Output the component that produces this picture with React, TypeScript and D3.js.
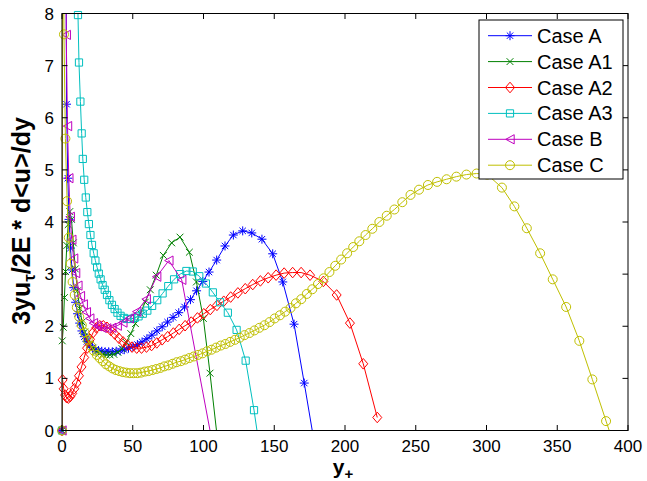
import React from 'react';
import * as d3 from 'd3';

const xTicks = [0, 50, 100, 150, 200, 250, 300, 350, 400];
const yTicks = [0, 1, 2, 3, 4, 5, 6, 7, 8];
const seriesNames = ['Case A', 'Case A1', 'Case A2', 'Case A3', 'Case B', 'Case C'];

const caseAX = [0, 1.2, 3.2, 4.1, 5.0, 6.0, 7.1, 8.3, 9.6, 11.0,
  12.5, 14.1, 15.8, 17.6, 19.5, 21.5, 23.6, 25.8, 28.1, 30.5,
  33.0, 35.6, 38.3, 41.1, 44.0, 47.0, 50.1, 53.3, 56.6, 60.0,
  63.5, 67.1, 70.8, 74.6, 78.5, 82.5, 86.6, 90.8, 95.1, 99.5,
  103.9, 109.3, 115.2, 121.1, 127.7, 134.1, 141.3, 148.9, 156.0, 164.0,
  171.2, 178.4];
const caseAY = [0, 25, 6.26, 4.84, 4.05, 3.50, 3.08, 2.74, 2.46, 2.24,
  2.06, 1.91, 1.80, 1.71, 1.64, 1.59, 1.55, 1.53, 1.52, 1.51,
  1.51, 1.51, 1.52, 1.53, 1.55, 1.58, 1.61, 1.65, 1.70, 1.76,
  1.83, 1.91, 1.99, 2.08, 2.17, 2.26, 2.37, 2.51, 2.68, 2.86,
  3.04, 3.27, 3.54, 3.75, 3.83, 3.79, 3.67, 3.39, 2.85, 2.04,
  0.91, -0.25];

const caseA1X = [0, 0.2, 0.9, 1.7, 2.5, 3.4, 4.4, 5.5, 6.7, 8.0,
  9.4, 10.9, 12.5, 14.2, 16.0, 17.9, 19.9, 22.0, 24.2, 26.5,
  28.9, 31.4, 34.0, 36.7, 39.5, 42.4, 45.4, 48.6, 51.9, 55.3,
  58.8, 62.4, 66.6, 71.6, 77.5, 83.4, 90.0, 95.0, 99.9, 104.6,
  109.8];
const caseA1Y = [0, 1.72, 1.98, 2.55, 3.05, 3.55, 3.95, 4.2, 4.05, 3.6,
  3.1, 2.68, 2.34, 2.08, 1.89, 1.75, 1.65, 1.58, 1.52, 1.48,
  1.46, 1.45, 1.45, 1.46, 1.50, 1.57, 1.69, 1.86, 2.05, 2.25,
  2.46, 2.70, 2.98, 3.36, 3.60, 3.71, 3.42, 2.85, 2.15, 1.10,
  -0.15];

const caseA2X = [0, 0.4, 1.2, 2.2, 3.3, 4.5, 5.8, 7.2, 8.7, 10.3,
  12.0, 13.8, 15.7, 17.7, 19.8, 22.0, 24.3, 26.7, 29.2, 31.8,
  34.5, 37.3, 40.2, 43.2, 46.3, 49.5, 52.8, 56.2, 59.7, 63.3,
  67.0, 70.8, 74.7, 78.7, 82.8, 87.0, 91.3, 95.7, 100.2, 104.8,
  109.5, 114.3, 119.2, 124.3, 129.5, 134.8, 140.2, 145.7, 151.3, 157.0,
  163.0, 169.0, 175.3, 184.7, 194.1, 203.5, 212.9, 222.8];
const caseA2Y = [0, 0.97, 0.80, 0.68, 0.63, 0.62, 0.65, 0.71, 0.80, 0.91,
  1.05, 1.22, 1.40, 1.58, 1.75, 1.88, 1.97, 2.01, 2.01, 1.98,
  1.92, 1.85, 1.77, 1.70, 1.64, 1.60, 1.58, 1.58, 1.60, 1.63,
  1.68, 1.74, 1.80, 1.87, 1.94, 2.01, 2.08, 2.16, 2.24, 2.32,
  2.40, 2.48, 2.56, 2.64, 2.72, 2.80, 2.87, 2.93, 2.98, 3.02,
  3.03, 3.03, 2.98, 2.86, 2.60, 2.06, 1.28, 0.25];

const caseA3X = [0, 0.5, 11.3, 12.0, 13.0, 13.9, 14.7, 15.7, 16.8, 17.9,
  19.0, 20.1, 21.2, 22.4, 23.6, 24.8, 26.0, 27.3, 28.7, 30.2,
  31.8, 33.5, 35.3, 37.2, 39.2, 41.4, 43.7, 46.1, 48.6, 51.3,
  54.1, 57.1, 60.3, 63.7, 67.3, 71.1, 75.1, 79.2, 83.5, 87.9,
  92.4, 97.0, 101.7, 106.6, 111.7, 117.2, 123.4, 129.8, 135.7, 141.0];
const caseA3Y = [0, 60, 7.97, 7.06, 6.31, 5.70, 5.21, 4.81, 4.47, 4.19,
  3.96, 3.75, 3.56, 3.40, 3.26, 3.13, 3.01, 2.90, 2.79, 2.70,
  2.60, 2.50, 2.41, 2.33, 2.26, 2.20, 2.16, 2.14, 2.14, 2.16,
  2.19, 2.24, 2.30, 2.39, 2.50, 2.63, 2.77, 2.90, 3.00, 3.06,
  3.05, 2.96, 2.82, 2.65, 2.46, 2.26, 1.93, 1.34, 0.39, -0.6];

const caseBX = [0, 1.0, 3.0, 3.9, 4.8, 5.8, 6.9, 8.2, 9.6, 11.2,
  13.0, 15.0, 17.2, 19.6, 22.2, 25.0, 28.2, 31.6, 35.2, 39.0,
  43.0, 47.5, 52.8, 59.5, 66.9, 75.5, 84.6, 106.0];
const caseBY = [0, 30, 7.59, 5.84, 4.84, 4.10, 3.66, 3.30, 3.02, 2.78,
  2.58, 2.42, 2.27, 2.15, 2.06, 2.00, 1.97, 1.96, 1.97, 2.01,
  2.07, 2.15, 2.28, 2.52, 2.95, 3.26, 2.89, -0.2];

const caseCX = [0, 0.5, 1.4, 2.4, 3.6, 4.8, 6.1, 7.5, 9.0, 10.5,
  12.2, 14.0, 16.0, 18.2, 20.5, 22.5, 24.6, 26.7, 28.9, 31.1,
  33.4, 35.7, 38.1, 40.5, 43.0, 45.5, 48.0, 50.6, 53.2, 55.8,
  58.5, 61.2, 63.9, 66.7, 69.5, 72.3, 75.2, 78.1, 81.0, 84.0,
  87.0, 90.0, 93.1, 96.2, 99.3, 102.5, 105.7, 108.9, 112.2, 115.5,
  118.8, 122.2, 125.6, 129.0, 132.5, 136.0, 139.5, 143.1, 146.7, 150.3,
  154.0, 157.7, 161.5, 165.3, 169.1, 173.0, 176.9, 180.9, 184.9, 189.0,
  193.1, 197.3, 201.5, 205.8, 210.1, 214.5, 219.3, 224.3, 229.5, 234.9,
  240.5, 246.3, 252.3, 258.6, 265.1, 271.8, 278.7, 285.8, 293.0, 300.5,
  310.9, 319.7, 328.5, 337.9, 346.8, 356.3, 365.6, 374.8, 384.5, 393.5];
const caseCY = [0, 12, 7.6, 5.6, 4.4, 3.7, 3.2, 2.85, 2.6, 2.36,
  2.18, 2.02, 1.88, 1.74, 1.62, 1.53, 1.45, 1.39, 1.33, 1.27,
  1.23, 1.19, 1.16, 1.14, 1.12, 1.11, 1.10, 1.10, 1.10, 1.11,
  1.13, 1.14, 1.16, 1.18, 1.20, 1.23, 1.25, 1.28, 1.31, 1.33,
  1.36, 1.39, 1.42, 1.45, 1.48, 1.52, 1.55, 1.59, 1.63, 1.66,
  1.70, 1.74, 1.78, 1.83, 1.87, 1.92, 1.97, 2.02, 2.08, 2.15,
  2.21, 2.28, 2.35, 2.44, 2.52, 2.62, 2.71, 2.81, 2.92, 3.04,
  3.16, 3.28, 3.40, 3.52, 3.63, 3.75, 3.87, 4.00, 4.12, 4.24,
  4.38, 4.52, 4.62, 4.71, 4.77, 4.82, 4.87, 4.91, 4.93, 4.91,
  4.66, 4.30, 3.88, 3.40, 2.90, 2.37, 1.72, 0.98, 0.18, -0.55];

const seriesX = [caseAX, caseA1X, caseA2X, caseA3X, caseBX, caseCX];
const seriesY = [caseAY, caseA1Y, caseA2Y, caseA3Y, caseBY, caseCY];
const seriesColors = ['#0000ff', '#008000', '#ff0000', '#00bfbf', '#bf00bf', '#bfbf00'];
const seriesMarkers = ['star', 'x', 'diamond', 'square', 'triangle', 'circle'];

const W = 647;
const H = 481;
const PL = 62, PR = 628, PT = 13.5, PB = 430.5;
const FONT = 'Liberation Sans, Arial, Helvetica, sans-serif';

function markerPath(shape: string): string {
  switch (shape) {
    case 'star':
      return 'M-4.5,0H4.5M0,-4.5V4.5M-3.2,-3.2L3.2,3.2M-3.2,3.2L3.2,-3.2';
    case 'x':
      return 'M-3.4,-3.4L3.4,3.4M-3.4,3.4L3.4,-3.4';
    case 'diamond':
      return 'M0,-5.3L4.5,0L0,5.3L-4.5,0Z';
    case 'square':
      return 'M-3.6,-3.6H3.6V3.6H-3.6Z';
    case 'triangle':
      return 'M-4.2,0L4.2,-4.6L4.2,4.6Z';
    default:
      return 'M4.5,0A4.5,4.5,0,1,1,-4.5,0A4.5,4.5,0,1,1,4.5,0Z';
  }
}

export default function App() {
  const x = d3.scaleLinear().domain([0, 400]).range([PL, PR]);
  const y = d3.scaleLinear().domain([0, 8]).range([PB, PT]);
  const line = d3
    .line<[number, number]>()
    .x((d) => x(d[0]))
    .y((d) => y(d[1]));

  const series = seriesNames.map((name, i) => {
    const pts: [number, number][] = seriesX[i].map((v, j) => [v, seriesY[i][j]]);
    return { name, pts, color: seriesColors[i], marker: seriesMarkers[i] };
  });

  const tickLen = 5.5;
  const legX = 479, legY = 20, legW = 144, legH = 159, legRow = 25.9;

  return (
    <svg
      width={W}
      height={H}
      style={{ position: 'absolute', left: 0, top: 0, background: '#fff' }}
      fontFamily={FONT}
    >
      <defs>
        <clipPath id="plotclip">
          <rect x={PL} y={PT} width={PR - PL} height={PB - PT} />
        </clipPath>
      </defs>
      <rect x={0} y={0} width={W} height={H} fill="#fff" />

      {series.map((s) => (
        <g key={s.name}>
          <path d={line(s.pts) || ''} fill="none" stroke={s.color} strokeWidth={1} clipPath="url(#plotclip)" />
          {s.pts
            .filter((p) => p[1] >= 0 && p[1] <= 8 && p[0] >= 0 && p[0] <= 400)
            .map((p, k) => (
              <path
                key={k}
                d={markerPath(s.marker)}
                transform={`translate(${x(p[0])},${y(p[1])})`}
                fill="none"
                stroke={s.color}
                strokeWidth={1}
              />
            ))}
        </g>
      ))}

      {/* axes box */}
      <rect x={PL} y={PT} width={PR - PL} height={PB - PT} fill="none" stroke="#000" strokeWidth={1} />
      {xTicks.map((t) => (
        <g key={'x' + t}>
          <line x1={x(t)} x2={x(t)} y1={PB} y2={PB - tickLen} stroke="#000" />
          <line x1={x(t)} x2={x(t)} y1={PT} y2={PT + tickLen} stroke="#000" />
          <text x={x(t)} y={452} fontSize={17} textAnchor="middle" fill="#000">
            {t}
          </text>
        </g>
      ))}
      {yTicks.map((t) => (
        <g key={'y' + t}>
          <line x1={PL} x2={PL + tickLen} y1={y(t)} y2={y(t)} stroke="#000" />
          <line x1={PR} x2={PR - tickLen} y1={y(t)} y2={y(t)} stroke="#000" />
          <text x={54} y={y(t) + 6} fontSize={17} textAnchor="end" fill="#000">
            {t}
          </text>
        </g>
      ))}

      {/* x label */}
      <text x={343} y={474} fontSize={21} fontWeight="bold" textAnchor="middle" fill="#000">
        y<tspan fontSize={15} dy={5}>+</tspan>
      </text>

      {/* y label */}
      <text
        transform="translate(30,221) rotate(-90)"
        fontSize={25}
        fontWeight="bold"
        textAnchor="middle"
        fill="#000"
      >
        {'3yu'}
        <tspan fontSize={17} dy={5}>τ</tspan>
        <tspan dy={-5}>{'/2E * d<u>/dy'}</tspan>
      </text>

      {/* legend */}
      <rect x={legX} y={legY} width={legW} height={legH} fill="#fff" stroke="#000" strokeWidth={1} />
      {series.map((s, i) => {
        const cy = legY + 15.7 + i * legRow;
        return (
          <g key={'leg' + s.name}>
            <line x1={488} x2={532} y1={cy} y2={cy} stroke={s.color} strokeWidth={1} />
            <path d={markerPath(s.marker)} transform={`translate(510,${cy})`} fill="none" stroke={s.color} />
            <text x={537} y={cy + 7} fontSize={20} fill="#000">
              {s.name}
            </text>
          </g>
        );
      })}
    </svg>
  );
}
